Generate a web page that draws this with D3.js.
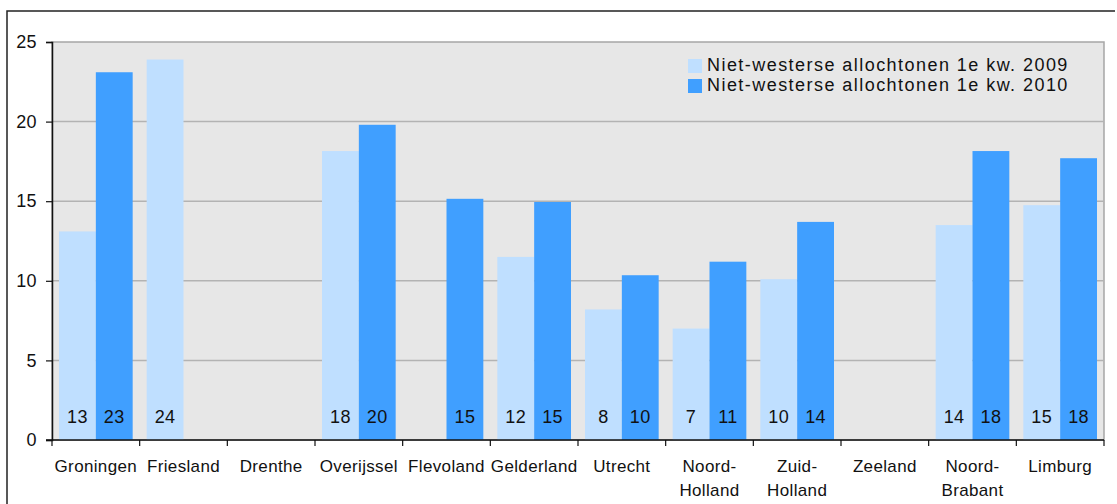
<!DOCTYPE html>
<html>
<head>
<meta charset="utf-8">
<script src="https://cdn.jsdelivr.net/npm/d3@7"></script>
<style>
  body { margin: 0; background: #fff; }
  svg { display: block; font-family: Arial, "Liberation Sans", sans-serif; }
</style>
</head>
<body>
<div class="chart"></div>
<script>
// provinces, with line breaks where the original wraps
const provinces = ['Groningen', 'Friesland', 'Drenthe', 'Overijssel', 'Flevoland', 'Gelderland',
  'Utrecht', 'Noord-\nHolland', 'Zuid-\nHolland', 'Zeeland', 'Noord-\nBrabant', 'Limburg'];
const series = ['Niet-westerse allochtonen 1e kw. 2009', 'Niet-westerse allochtonen 1e kw. 2010'];
// null = no bar drawn
const values2009 = [13.1, 23.9, null, 18.15, null, 11.5, 8.2, 7.0, 10.1, null, 13.5, 14.75];
const values2010 = [23.1, null, null, 19.8, 15.15, 14.95, 10.35, 11.2, 13.7, null, 18.15, 17.7];
const yTicks = [0, 5, 10, 15, 20, 25];
const colors = ['#bfdfff', '#409fff'];

const width = 1117;
const height = 504;
const plot = { left: 52, right: 1104, top: 42, bottom: 440 };

const svg = d3.select('.chart')
  .append('svg')
  .attr('width', width)
  .attr('height', height);

// outer frame, only top and left visible in the crop
svg.append('path')
  .attr('d', `M7,${height + 5}V11H1115`)
  .attr('fill', 'none')
  .attr('stroke', '#222')
  .attr('stroke-width', 1.5);

const x = d3.scaleBand()
  .domain(provinces)
  .range([plot.left, plot.right]);

const xInner = d3.scaleBand()
  .domain([0, 1])
  .range([7, x.bandwidth() - 7]);

const y = d3.scaleLinear()
  .domain([0, 25])
  .range([plot.bottom, plot.top]);

// plot background
svg.append('rect')
  .attr('x', plot.left)
  .attr('y', plot.top)
  .attr('width', plot.right - plot.left)
  .attr('height', plot.bottom - plot.top)
  .attr('fill', '#e7e7e7')
  .attr('stroke', '#a6a6a6')
  .attr('stroke-width', 1.5);

// gridlines
svg.append('g')
  .selectAll('line')
  .data(yTicks.filter(t => t > 0 && t < 25))
  .enter()
    .append('line')
    .attr('x1', plot.left)
    .attr('x2', plot.right)
    .attr('y1', d => y(d))
    .attr('y2', d => y(d))
    .attr('stroke', '#b3b3b3')
    .attr('stroke-width', 1.5);

const rows = provinces.map((p, i) => ({ p, vals: [values2009[i], values2010[i]] }));

const groups = svg.append('g')
  .selectAll('g')
  .data(rows)
  .enter()
    .append('g')
    .attr('transform', d => `translate(${x(d.p)},0)`);

const bars = groups.selectAll('g')
  .data(d => d.vals.map((v, s) => ({ v, s })).filter(d => d.v !== null))
  .enter()
    .append('g');

bars.append('rect')
  .attr('x', d => xInner(d.s))
  .attr('width', xInner.bandwidth())
  .attr('y', d => y(d.v))
  .attr('height', d => y(0) - y(d.v))
  .attr('fill', d => colors[d.s]);

bars.append('text')
  .attr('x', d => xInner(d.s) + xInner.bandwidth() / 2)
  .attr('y', 423)
  .attr('text-anchor', 'middle')
  .attr('font-size', 18)
  .attr('letter-spacing', 0.4)
  .attr('fill', '#111')
  .text(d => Math.round(d.v));

// y axis
const yAxis = svg.append('g')
  .attr('transform', `translate(${plot.left},0)`)
  .call(d3.axisLeft(y).tickValues(yTicks).tickSize(6).tickPadding(9));
yAxis.select('.domain').attr('stroke', '#111').attr('stroke-width', 1.5);
yAxis.selectAll('.tick line').attr('stroke', '#111').attr('stroke-width', 1.2);
yAxis.selectAll('.tick text')
  .attr('font-size', 18)
  .attr('letter-spacing', 0.4)
  .attr('fill', '#111')
  .attr('font-family', 'Arial, "Liberation Sans", sans-serif');

// x axis line and boundary ticks
const xAxis = svg.append('g');
xAxis.append('line')
  .attr('x1', plot.left - 6)
  .attr('x2', plot.right)
  .attr('y1', plot.bottom)
  .attr('y2', plot.bottom)
  .attr('stroke', '#111')
  .attr('stroke-width', 1.5);
xAxis.selectAll('.bt')
  .data(provinces.map(p => x(p)).concat([plot.right]))
  .enter()
    .append('line')
    .attr('class', 'bt')
    .attr('x1', d => d)
    .attr('x2', d => d)
    .attr('y1', plot.bottom)
    .attr('y2', plot.bottom + 6)
    .attr('stroke', '#111')
    .attr('stroke-width', 1.2);

xAxis.selectAll('text')
  .data(provinces)
  .enter()
    .append('text')
    .attr('x', d => x(d) + x.bandwidth() / 2)
    .attr('y', 472)
    .attr('text-anchor', 'middle')
    .attr('font-size', 17)
    .attr('letter-spacing', 0.35)
    .attr('fill', '#111')
    .each(function (d) {
      const parts = d.split('\n');
      d3.select(this).selectAll('tspan')
        .data(parts)
        .enter()
          .append('tspan')
          .attr('x', x(d) + x.bandwidth() / 2)
          .attr('dy', (t, i) => i === 0 ? 0 : 24)
          .text(t => t);
    });

// legend
const legend = svg.append('g')
  .selectAll('g')
  .data(series)
  .enter()
    .append('g')
    .attr('transform', (d, i) => `translate(688,${59 + i * 20})`);

legend.append('rect')
  .attr('width', 14)
  .attr('height', 14)
  .attr('fill', (d, i) => colors[i]);

legend.append('text')
  .attr('x', 19)
  .attr('y', 11.5)
  .attr('font-size', 18)
  .attr('letter-spacing', 1.45)
  .attr('fill', '#111')
  .text(d => d);
</script>
</body>
</html>
